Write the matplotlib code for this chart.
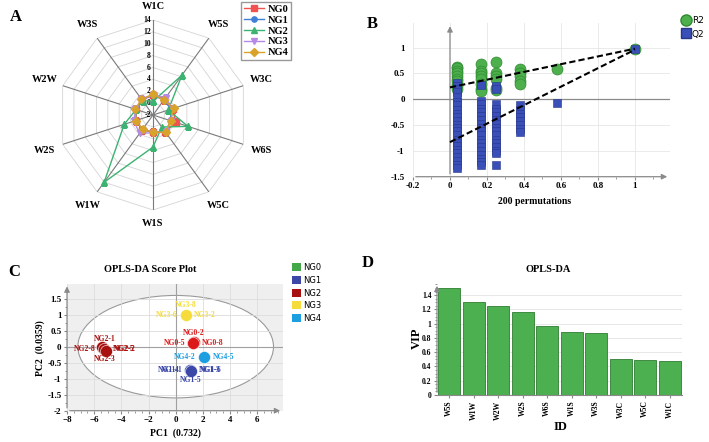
import numpy as np
import matplotlib.pyplot as plt
from matplotlib.patches import Ellipse, Patch
from matplotlib.lines import Line2D
from matplotlib.ticker import MultipleLocator, FormatStrFormatter

plt.rcParams['font.family'] = ['Liberation Serif', 'DejaVu Serif']
plt.rcParams['font.weight'] = 'bold'

W, H = 709, 442

# ---- A: e-nose radar ----
sensors = ['W1C', 'W5S', 'W3C', 'W6S', 'W5C', 'W1S', 'W1W', 'W2S', 'W2W', 'W3S']
groups = ['NG0', 'NG1', 'NG2', 'NG3', 'NG4']
ng0 = [1.3, 1.2, 1.5, 2.0, 1.5, 0.9, 1.1, 1.0, 1.0, 1.2]
ng1 = [1.4, 1.1, 1.2, 1.1, 1.6, 0.9, 1.0, 1.0, 1.0, 1.2]
ng2 = [0.3, 6.3, 0.7, 4.2, 0.5, 3.4, 12.0, 3.1, 1.0, 1.0]
ng3 = [1.4, 1.6, 1.5, 1.2, 1.6, 1.0, 1.8, 1.4, 1.1, 1.3]
ng4 = [1.5, 1.1, 1.65, 1.1, 1.6, 0.9, 1.0, 1.0, 1.1, 1.3]
radar_levels = [-2, 0, 2, 4, 6, 8, 10, 12, 14]
radar_colors = ['#f0524f', '#3f7fd6', '#3cb371', '#b58ae6', '#d9a22a']
radar_markers = ['s', 'o', '^', 'v', 'D']

# ---- B: permutation test ----
perm_x = [0.04, 0.17, 0.25, 0.38, 0.58, 1.0]
r2_cols = [
    [0.63, 0.6, 0.55, 0.5, 0.45, 0.4, 0.35, 0.3, 0.25, 0.2],
    [0.68, 0.55, 0.5, 0.45, 0.4, 0.3, 0.2, 0.17],
    [0.72, 0.5, 0.45, 0.4, 0.22, 0.18],
    [0.58, 0.5, 0.45, 0.35, 0.3],
    [0.58],
    [0.98],
]
q2_cols = [
    [0.31, 0.25, 0.2, 0.15, 0.05, -0.05, -0.12, -0.2, -0.28, -0.35, -0.42, -0.5,
     -0.55, -0.62, -0.7, -0.78, -0.85, -0.9, -0.98, -1.05, -1.12, -1.2, -1.27, -1.34],
    [0.28, -0.03, -0.1, -0.18, -0.25, -0.32, -0.4, -0.48, -0.55, -0.62, -0.7,
     -0.78, -0.85, -0.92, -1.0, -1.08, -1.15, -1.22, -1.28],
    [0.25, 0.2, -0.1, -0.18, -0.25, -0.33, -0.4, -0.48, -0.55, -0.62, -0.7,
     -0.78, -0.85, -0.92, -1.0, -1.05, -1.27],
    [-0.12, -0.2, -0.28, -0.35, -0.42, -0.5, -0.58, -0.64],
    [-0.08],
    [0.97],
]
r2_line = [0.23, 0.98]
q2_line = [-0.83, 0.96]

# ---- C: OPLS-DA scores ----
score_groups = ['NG0', 'NG1', 'NG2', 'NG3', 'NG4']
score_colors = ['#dd1a1a', '#3b48a8', '#a80f0f', '#f5dc3a', '#1c9fe0']
legend_colors = ['#43a847', '#3b48a8', '#a80f0f', '#f5dc3a', '#1c9fe0']
ng0_pc = [(1.25, 0.1), (1.35, 0.15), (1.3, 0.12)]
ng1_pc = [(1.05, -0.72), (1.15, -0.75)]
ng2_pc = [(-5.4, 0.0), (-5.25, -0.08), (-5.1, -0.15)]
ng3_pc = [(0.75, 1.0)]
ng4_pc = [(2.1, -0.33)]
ng0_lab = [('NG0-2', 'top'), ('NG0-5', 'left'), ('NG0-8', 'right')]
ng1_lab = [('NG1-1', 'left'), ('NG1-4', 'left2'), ('NG1-3', 'right'), ('NG1-6', 'right2'), ('NG1-5', 'bottom')]
ng2_lab = [('NG2-1', 'top'), ('NG2-8', 'left'), ('NG2-5', 'right'), ('NG2-2', 'right2'), ('NG2-3', 'bottom')]
ng3_lab = [('NG3-8', 'top'), ('NG3-6', 'left'), ('NG3-2', 'right')]
ng4_lab = [('NG4-2', 'left'), ('NG4-5', 'right')]

# ---- D: VIP ----
vip_ids = ['W5S', 'W1W', 'W2W', 'W2S', 'W6S', 'W1S', 'W3S', 'W3C', 'W5C', 'W1C']
vip_vals = [1.50, 1.30, 1.25, 1.16, 0.97, 0.89, 0.87, 0.50, 0.49, 0.48]


def rect(x0, y0, x1, y1):
    return [x0 / W, 1 - y1 / H, (x1 - x0) / W, (y1 - y0) / H]


fig = plt.figure(figsize=(W / 100, H / 100), dpi=100)

# ================= A =================
axA = fig.add_axes(rect(58, 20, 248, 210), projection='polar')
axA.set_theta_zero_location('N')
axA.set_theta_direction(-1)
axA.set_ylim(-2, 14)
axA.grid(False)
axA.set_xticks([])
axA.set_yticks([])
axA.spines['polar'].set_visible(False)
theta = np.linspace(0, 2 * np.pi, len(sensors), endpoint=False)
th_closed = np.append(theta, theta[0])
for lvl in radar_levels[1:]:
    axA.plot(th_closed, [lvl] * len(th_closed), color='#d4d4d4', lw=0.6, zorder=1)
for t in theta:
    axA.plot([t, t], [-2, 14], color='#7a7a7a', lw=0.8, zorder=1)
for lvl in radar_levels:
    axA.annotate(str(lvl), xy=(0, lvl), xytext=(-1.5, 0), textcoords='offset points',
                 ha='right', va='center', fontsize=5.5)
for t, s in zip(theta, sensors):
    axA.text(t, 16.2 + 1.0 * abs(np.sin(t)), s, ha='center', va='center', fontsize=7.5)
handles = []
for vals, g, c, m in zip([ng0, ng1, ng2, ng3, ng4], groups, radar_colors, radar_markers):
    v = vals + vals[:1]
    ln, = axA.plot(th_closed, v, color=c, lw=1.0, marker=m, ms=3.8, zorder=3, label=g)
    handles.append(ln)
fig.legend(handles=handles, loc='upper left', bbox_to_anchor=(241 / W, 1 - 2 / H),
           prop={'size': 7.5, 'weight': 'bold'}, frameon=True, fancybox=False,
           edgecolor='#999999', framealpha=1, handlelength=2.0, handletextpad=0.3,
           borderpad=0.25, labelspacing=0.15, borderaxespad=0)
fig.text(10 / W, 1 - 17 / H, 'A', fontsize=12, ha='left', va='center')

# ================= B =================
axB = fig.add_axes(rect(413, 23.4, 670, 176.7))
axB.set_xlim(-0.2, 1.19)
axB.set_ylim(-1.5, 1.47)
for sp in axB.spines.values():
    sp.set_visible(False)
axB.set_xticks([-0.2, 0, 0.2, 0.4, 0.6, 0.8, 1.0])
axB.set_yticks([-1.5, -1, -0.5, 0, 0.5, 1])
axB.xaxis.set_major_formatter(FormatStrFormatter('%g'))
axB.yaxis.set_major_formatter(FormatStrFormatter('%g'))
axB.xaxis.set_minor_locator(MultipleLocator(0.1))
axB.tick_params(axis='both', labelsize=6.5, length=2, color='#888888', pad=2)
axB.tick_params(axis='y', length=0, pad=6)
axB.tick_params(axis='x', which='minor', length=1.5, color='#888888')
axB.grid(True, color='#e6e6e6', lw=0.6)
axB.set_axisbelow(True)
axB.axhline(0, color='#8a8a8a', lw=0.9, zorder=1)
axB.annotate('', xy=(1.19, -1.5), xytext=(-0.2, -1.5),
             arrowprops=dict(arrowstyle='-|>', color='#8a8a8a', lw=0.9, mutation_scale=8),
             annotation_clip=False)
axB.annotate('', xy=(0, 1.47), xytext=(0, -1.5),
             arrowprops=dict(arrowstyle='-|>', color='#8a8a8a', lw=0.9, mutation_scale=8),
             annotation_clip=False)
bx_r, by_r, bx_q, by_q = [], [], [], []
for x, col in zip(perm_x, r2_cols):
    bx_r += [x] * len(col)
    by_r += col
for x, col in zip(perm_x, q2_cols):
    bx_q += [x] * len(col)
    by_q += col
axB.scatter(bx_r, by_r, s=62, marker='o', color='#4db04d', edgecolor='#2f8a2f', lw=0.5, zorder=3)
axB.scatter(bx_q, by_q, s=38, marker='s', color='#3a4fb8', edgecolor='#28378a', lw=0.4, zorder=4)
axB.plot([0, 1], r2_line, color='black', lw=1.5, ls=(0, (3, 1.5)), zorder=5)
axB.plot([0, 1], q2_line, color='black', lw=1.5, ls=(0, (3, 1.5)), zorder=5)
fig.text(535 / W, 1 - 202 / H, '200 permutations', fontsize=7, ha='center', va='center')
hB = [Line2D([], [], ls='', marker='o', ms=8, color='#4db04d', mec='#2f8a2f'),
      Line2D([], [], ls='', marker='s', ms=6.5, color='#3a4fb8', mec='#28378a')]
fig.legend(hB, ['R2', 'Q2'], loc='upper left', bbox_to_anchor=(682 / W, 1 - 16 / H),
           prop={'family': 'DejaVu Sans', 'size': 6.5, 'weight': 'normal'}, frameon=False,
           handlelength=0.8, handletextpad=0.3, labelspacing=0.5, borderaxespad=0, borderpad=0)
fig.text(367 / W, 1 - 24 / H, 'B', fontsize=12, ha='left', va='center')

# ================= C =================
axC = fig.add_axes(rect(67, 283.6, 283, 410.7))
axC.set_xlim(-8, 7.9)
axC.set_ylim(-2, 1.97)
axC.set_facecolor('#efefef')
for sp in axC.spines.values():
    sp.set_visible(False)
axC.add_patch(Ellipse((0, 0), 14.4, 3.2, facecolor='white', edgecolor='#9a9a9a', lw=0.8, zorder=0.5))
for gx in range(-8, 8, 2):
    axC.axvline(gx, color='#dcdcdc', lw=0.6, zorder=0.8)
for gy in np.arange(-1.5, 2.0, 0.5):
    axC.axhline(gy, color='#dcdcdc', lw=0.6, zorder=0.8)
axC.axhline(0, color='#a0a0a0', lw=0.8, zorder=0.9)
axC.axvline(0, color='#a0a0a0', lw=0.8, zorder=0.9)
axC.annotate('', xy=(7.9, -2), xytext=(-8, -2),
             arrowprops=dict(arrowstyle='-|>', color='#8a8a8a', lw=0.9, mutation_scale=8),
             annotation_clip=False)
axC.annotate('', xy=(-8, 1.97), xytext=(-8, -2),
             arrowprops=dict(arrowstyle='-|>', color='#8a8a8a', lw=0.9, mutation_scale=8),
             annotation_clip=False)
axC.set_xticks(range(-8, 7, 2))
axC.set_yticks([-2, -1.5, -1, -0.5, 0, 0.5, 1, 1.5])
axC.yaxis.set_major_formatter(FormatStrFormatter('%g'))
axC.xaxis.set_minor_locator(MultipleLocator(0.5))
axC.yaxis.set_minor_locator(MultipleLocator(0.25))
axC.tick_params(axis='both', labelsize=6.5, length=2, color='#888888', pad=2)
axC.tick_params(which='minor', length=1.2, color='#888888')
offsets = {'top': (0, 7), 'bottom': (0, -7), 'left': (-6, 0), 'left2': (-8, 0),
           'right': (6, 0), 'right2': (7, 0)}
aligns = {'top': 'center', 'bottom': 'center', 'left': 'right', 'left2': 'right',
          'right': 'left', 'right2': 'left'}
for pts, labs, c in zip([ng0_pc, ng1_pc, ng2_pc, ng3_pc, ng4_pc],
                        [ng0_lab, ng1_lab, ng2_lab, ng3_lab, ng4_lab], score_colors):
    xs = [p[0] for p in pts]
    ys = [p[1] for p in pts]
    axC.scatter(xs, ys, s=75, color=c, edgecolor='white', lw=0.4, zorder=3)
    cx, cy = np.mean(xs), np.mean(ys)
    for name, pos in labs:
        axC.annotate(name, xy=(cx, cy), xytext=offsets[pos], textcoords='offset points',
                     ha=aligns[pos], va='center', fontsize=5.5, color=c, zorder=4)
fig.text(150 / W, 1 - 270 / H, 'OPLS-DA Score Plot', fontsize=7.5, ha='center', va='center')
fig.text(175 / W, 1 - 433 / H, 'PC1  (0.732)', fontsize=7, ha='center', va='center')
fig.text(40 / W, 1 - 348 / H, 'PC2  (0.0359)', fontsize=7, ha='center', va='center', rotation=90)
hC = [Patch(facecolor=c, edgecolor='none') for c in legend_colors]
fig.legend(hC, score_groups, loc='upper left', bbox_to_anchor=(292 / W, 1 - 263 / H),
           prop={'family': 'DejaVu Sans', 'size': 6, 'weight': 'normal'}, frameon=False,
           handlelength=1.1, handleheight=1.1, handletextpad=0.2, labelspacing=0.45,
           borderaxespad=0, borderpad=0)
fig.text(8 / W, 1 - 272 / H, 'C', fontsize=12, ha='left', va='center')

# ================= D =================
axD = fig.add_axes(rect(437, 283, 682, 395))
axD.bar(range(len(vip_ids)), vip_vals, width=0.9, color='#4caf50', edgecolor='#2e7d32', lw=0.6, zorder=2)
axD.set_xlim(-0.5, len(vip_ids) - 0.5)
axD.set_ylim(0, 1.57)
for s in ['top', 'right', 'left']:
    axD.spines[s].set_visible(False)
axD.spines['bottom'].set_color('#8a8a8a')
axD.annotate('', xy=(-0.5, 1.57), xytext=(-0.5, 0),
             arrowprops=dict(arrowstyle='-|>', color='#8a8a8a', lw=0.9, mutation_scale=8),
             annotation_clip=False)
axD.set_yticks(np.arange(0, 1.41, 0.2))
axD.yaxis.set_major_formatter(FormatStrFormatter('%g'))
axD.yaxis.set_minor_locator(MultipleLocator(0.05))
axD.grid(True, axis='y', color='#e3e3e3', lw=0.6)
axD.set_axisbelow(True)
axD.set_xticks(range(len(vip_ids)))
axD.set_xticklabels(vip_ids, rotation=90)
axD.tick_params(axis='both', labelsize=5.5, length=2, color='#888888', pad=2)
axD.tick_params(which='minor', length=1.2, color='#888888')
fig.text(548 / W, 1 - 270 / H, 'OPLS-DA', fontsize=7.5, ha='center', va='center')
fig.text(417 / W, 1 - 338 / H, 'VIP', fontsize=9, ha='center', va='center', rotation=90)
fig.text(560 / W, 1 - 427 / H, 'ID', fontsize=9, ha='center', va='center')
fig.text(362 / W, 1 - 263 / H, 'D', fontsize=12, ha='left', va='center')

fig.savefig('out.png', dpi=100)
